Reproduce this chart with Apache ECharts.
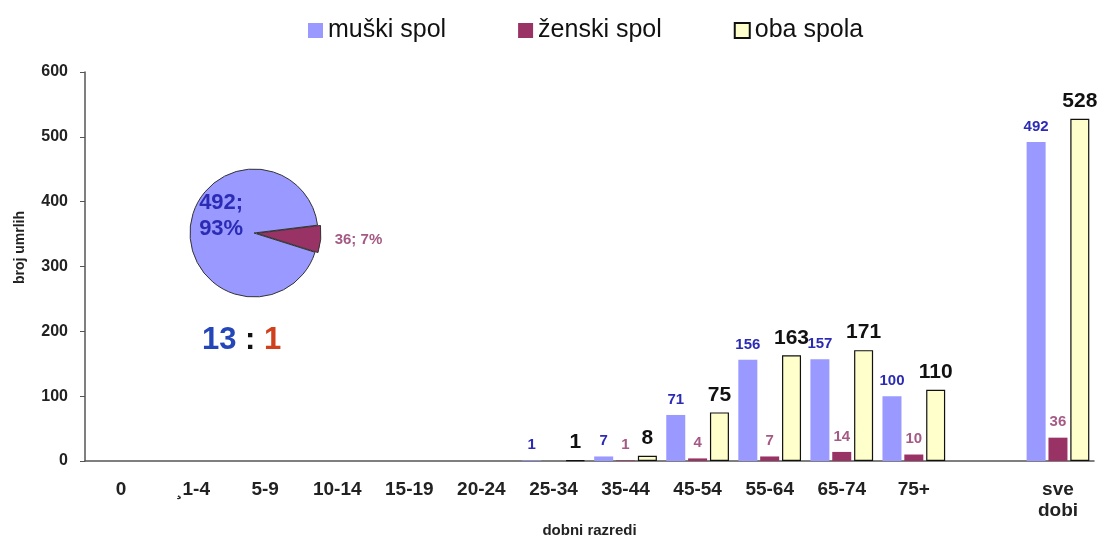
<!DOCTYPE html>
<html>
<head>
<meta charset="utf-8">
<script src="https://cdn.jsdelivr.net/npm/echarts@6/dist/echarts.min.js"></script>
<style>
  html, body { margin: 0; padding: 0; background: #fff; }
  #chart { width: 1102px; height: 541px; }
</style>
</head>
<body>
<div id="chart"></div>
<script>
// dobni razredi (prazno mjesto prije "sve dobi")
var categories = ['0', '\u00b81-4', '5-9', '10-14', '15-19', '20-24', '25-34', '35-44', '45-54', '55-64', '65-74', '75+', '', 'sve\ndobi']
var muski = [0, 0, 0, 0, 0, 0, 1, 7, 71, 156, 157, 100, null, 492]
var zenski = [0, 0, 0, 0, 0, 0, 0, 1, 4, 7, 14, 10, null, 36]
var oba = [0, 0, 0, 0, 0, 0, 1, 8, 75, 163, 171, 110, null, 528]
var yTicks = [0, 100, 200, 300, 400, 500, 600]
// udio po spolu (sve dobi)
var pieNames = ['ženski spol', 'muški spol']
var pieValues = [36, 492]
var omjer = ['13', ' : ', '1']

var font = 'Liberation Sans, Arial, sans-serif'
var chart = echarts.init(document.getElementById('chart'))

// nule se u izvorniku ne crtaju
function bezNula(arr) {
  return arr.map(function (v) { return v ? v : null })
}

chart.setOption({
  animation: false,
  textStyle: { fontFamily: font },
  legend: {
    top: 13,
    left: 303,
    itemGap: 72,
    itemWidth: 15,
    itemHeight: 15,
    textStyle: { fontSize: 25, color: '#111', fontFamily: font },
    data: [
      { name: 'muški spol', icon: 'rect' },
      { name: 'ženski spol', icon: 'rect' },
      { name: 'oba spola', icon: 'rect' }
    ]
  },
  grid: { left: 85, right: 8, top: 72, bottom: 80, outerBoundsMode: 'none', containLabel: false },
  xAxis: {
    type: 'category',
    data: categories,
    name: 'dobni razredi',
    nameLocation: 'middle',
    nameGap: 62,
    nameMoveOverlap: false,
    nameTextStyle: { fontSize: 15, fontWeight: 'bold', color: '#222', fontFamily: font },
    axisLine: { lineStyle: { color: '#555', width: 1.5 } },
    axisTick: { length: 5, lineStyle: { color: '#555' } },
    axisLabel: { fontSize: 19, fontWeight: 'bold', color: '#222', margin: 18, interval: 0, lineHeight: 21, verticalAlign: 'top', fontFamily: font }
  },
  yAxis: {
    type: 'value',
    min: yTicks[0],
    max: yTicks[yTicks.length - 1],
    interval: 100,
    name: 'broj umrlih',
    nameLocation: 'middle',
    nameGap: 58,
    nameMoveOverlap: false,
    nameRotate: 90,
    nameTextStyle: { fontSize: 14, fontWeight: 'bold', color: '#222', fontFamily: font, padding: [0, 0, 0, 38] },
    axisLine: { show: true, lineStyle: { color: '#555', width: 1.5 } },
    axisTick: { show: true, length: 5, lineStyle: { color: '#555' } },
    splitLine: { show: false },
    axisLabel: { fontSize: 16, fontWeight: 'bold', color: '#222', margin: 17, fontFamily: font }
  },
  series: [
    {
      name: 'muški spol',
      type: 'bar',
      data: bezNula(muski),
      barWidth: 19,
      barGap: '15%',
      itemStyle: { color: '#9999ff' },
      label: { show: true, position: 'top', distance: 8, color: '#2b2bb5', fontSize: 15, fontWeight: 'bold', fontFamily: font }
    },
    {
      name: 'ženski spol',
      type: 'bar',
      data: bezNula(zenski),
      barWidth: 19,
      itemStyle: { color: '#993366' },
      label: { show: true, position: 'top', distance: 8, color: '#a45a85', fontSize: 15, fontWeight: 'bold', fontFamily: font }
    },
    {
      name: 'oba spola',
      type: 'bar',
      data: bezNula(oba),
      barWidth: 19,
      itemStyle: { color: '#ffffcc', borderColor: '#111', borderWidth: 1.2 },
      label: { show: true, position: 'top', distance: 7, color: '#111', fontSize: 21, fontWeight: 'bold', fontFamily: font }
    },
    {
      name: 'udio',
      type: 'pie',
      center: [254, 233],
      radius: 64,
      startAngle: 7,
      clockwise: true,
      legendHoverLink: false,
      selectedMode: 'single',
      selectedOffset: 3,
      data: pieNames.map(function (n, i) {
        return {
          name: n,
          value: pieValues[i],
          selected: i === 0,
          itemStyle: { color: i === 0 ? '#993366' : '#9999ff' },
          label: i === 0
            ? { position: 'outside', color: '#a45a85', fontSize: 15, fontWeight: 'bold' }
            : { position: 'inside', color: '#2b2bb5', fontSize: 22, fontWeight: 'bold', lineHeight: 26, offset: [2, -14] }
        }
      }),
      itemStyle: { borderColor: '#333', borderWidth: 1 },
      labelLine: { show: false, length: 7, length2: 2 },
      label: {
        fontFamily: font,
        formatter: function (p) {
          var pct = Math.round(p.percent) + '%'
          return p.dataIndex === 0 ? p.value + '; ' + pct : p.value + ';\n' + pct
        }
      }
    }
  ],
  graphic: [
    {
      type: 'text',
      left: 202,
      top: 325,
      style: {
        text: '{a|' + omjer[0] + '}{b|' + omjer[1] + '}{c|' + omjer[2] + '}',
        rich: {
          a: { fontSize: 31, fontWeight: 'bold', fill: '#2446b8', fontFamily: font },
          b: { fontSize: 31, fontWeight: 'bold', fill: '#111', fontFamily: font },
          c: { fontSize: 31, fontWeight: 'bold', fill: '#d0401c', fontFamily: font }
        }
      }
    }
  ]
})
</script>
</body>
</html>
